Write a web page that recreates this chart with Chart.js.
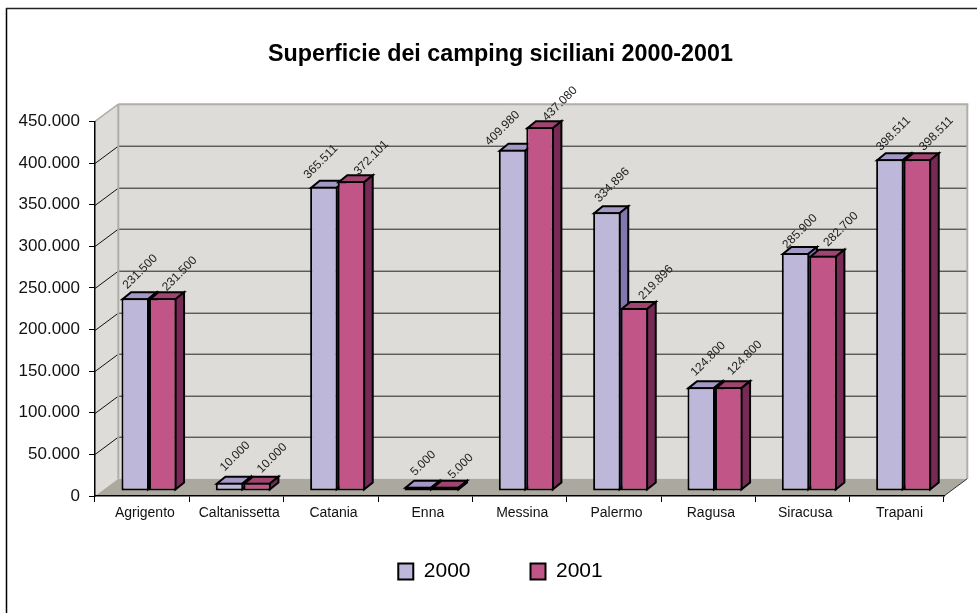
<!DOCTYPE html>
<html>
<head>
<meta charset="utf-8">
<style>html,body{margin:0;padding:0;background:#fff}canvas{display:block}</style>
<script src="https://cdn.jsdelivr.net/npm/chart.js@4"></script>
</head>
<body>
<canvas id="c" width="977" height="613"></canvas>
<script>
const categories = ["Agrigento","Caltanissetta","Catania","Enna","Messina","Palermo","Ragusa","Siracusa","Trapani"];
const seriesNames = ["2000","2001"];
const values2000 = [231500,10000,365511,5000,409980,334896,124800,285900,398511];
const values2001 = [231500,10000,372101,5000,437080,219896,124800,282700,398511];
const chartTitle = "Superficie dei camping siciliani 2000-2001";
const yMax = 450000;
const yStep = 50000;

const FONT = '"Liberation Sans", Arial, sans-serif';
const fmt = v => String(v).replace(/\B(?=(\d{3})+(?!\d))/g, ".");
// perspective of the walls, of the bars, and where the bars stand on the floor
const WALL = {dx: 23.3, dy: 17.3};
const BAR = {dx: 8.6, dy: 7, shiftX: 6.8, shiftY: -5};
const shades = [
  {top: "#A398C6", side: "#8378AE"},
  {top: "#A04570", side: "#762A55"}
];
// how far each rotated value label sits from the top-centre of its bar
const labelNudge = [
  {dx: [5,5.5,-3,5,-10,5.4,7,4.5,3.6], dy: [-26.5,-26.2,-25,-23.5,-21.5,-27.2,-28.2,-21.5,-25.5]},
  {dx: [17,15,20,15,20,21.6,16,18,19], dy: [-24.5,-24.5,-23.5,-20.5,-23.5,-25.5,-29.2,-26.5,-25.5]}
];

function poly(ctx, pts, fill, stroke, lw) {
  ctx.beginPath();
  pts.forEach((p, i) => i ? ctx.lineTo(p[0], p[1]) : ctx.moveTo(p[0], p[1]));
  ctx.closePath();
  if (fill) { ctx.fillStyle = fill; ctx.fill(); }
  if (stroke) { ctx.strokeStyle = stroke; ctx.lineWidth = lw; ctx.lineJoin = "miter"; ctx.stroke(); }
}
function line(ctx, x1, y1, x2, y2, color, lw) {
  ctx.beginPath(); ctx.moveTo(x1, y1); ctx.lineTo(x2, y2);
  ctx.strokeStyle = color; ctx.lineWidth = lw; ctx.stroke();
}

const scene3d = {
  id: "scene3d",
  afterLayout(chart) {
    // let the tick labels use the margin outside the narrow scale boxes
    chart.scales.y.left = 0;
    chart.scales.x.bottom = 545;
  },
  beforeDraw(chart) {
    const {ctx, chartArea: a, scales: {y}} = chart;
    const {dx, dy} = WALL;
    ctx.save();
    ctx.fillStyle = "#fff"; ctx.fillRect(0, 0, chart.width, chart.height);
    // sheet frame, cropped on the right and bottom
    line(ctx, 6.5, 8, 6.5, 613, "#000", 1.5);
    line(ctx, 6, 8.5, 977, 8.5, "#222", 1.5);
    // walls and floor
    poly(ctx, [[a.left, a.top],[a.left+dx, a.top-dy],[a.left+dx, a.bottom-dy],[a.left, a.bottom]], "#DDDCD8");
    ctx.fillStyle = "#DDDCD8";
    ctx.fillRect(a.left+dx, a.top-dy, a.right-a.left, a.bottom-a.top);
    poly(ctx, [[a.left, a.bottom],[a.left+dx, a.bottom-dy],[a.right+dx, a.bottom-dy],[a.right, a.bottom]], "#ABA89F");
    // grid on the walls
    y.ticks.forEach(t => {
      if (t.value === 0 || t.value === yMax) return;
      const py = Math.round(y.getPixelForValue(t.value)) + 0.5;
      line(ctx, a.left, py, a.left+dx, py-dy, "#111", 1);
      line(ctx, a.left+dx, py-dy, a.right+dx, py-dy, "#222", 1);
    });
    // wall edges
    const edge = "#B0AEA8";
    line(ctx, a.left, a.top, a.left+dx, a.top-dy, edge, 1.5);
    line(ctx, a.left+dx, a.top-dy, a.right+dx+1, a.top-dy, edge, 2);
    line(ctx, a.left+dx, a.top-dy, a.left+dx, a.bottom-dy, edge, 2);
    line(ctx, a.right+dx, a.top-dy, a.right+dx, a.bottom-dy, edge, 2);
    line(ctx, a.right, a.bottom, a.right+dx, a.bottom-dy, "#333", 1);
    ctx.restore();
  },
  beforeDatasetsDraw(chart) {
    const {ctx} = chart;
    // top and side faces, behind the fronts the library paints next
    ctx.save();
    ctx.translate(BAR.shiftX, BAR.shiftY);
    [0, 1].forEach(d => {
      chart.getDatasetMeta(d).data.forEach(b => {
        const l = b.x - b.width/2 + 1, r = b.x + b.width/2 - 1;
        const t = b.y + 1, bot = b.base - 1;
        poly(ctx, [[l,t],[l+BAR.dx,t-BAR.dy],[r+BAR.dx,t-BAR.dy],[r,t]], shades[d].top, "#000", 2);
        poly(ctx, [[r,t],[r+BAR.dx,t-BAR.dy],[r+BAR.dx,bot-BAR.dy],[r,bot]], shades[d].side, "#000", 2);
      });
    });
    ctx.restore();
    ctx.save();
    ctx.translate(BAR.shiftX, BAR.shiftY);
  },
  afterDatasetsDraw(chart) {
    const {ctx} = chart;
    ctx.restore();
    ctx.save();
    ctx.font = "12px " + FONT;
    ctx.fillStyle = "#222";
    ctx.textAlign = "center";
    ctx.textBaseline = "middle";
    chart.data.datasets.forEach((ds, d) => {
      chart.getDatasetMeta(d).data.forEach((b, i) => {
        ctx.save();
        ctx.translate(b.x + BAR.shiftX + labelNudge[d].dx[i], b.y + BAR.shiftY + labelNudge[d].dy[i]);
        ctx.rotate(-Math.PI/4);
        ctx.fillText(fmt(ds.data[i]), 0, 0);
        ctx.restore();
      });
    });
    ctx.restore();
  }
};

new Chart(document.getElementById("c"), {
  type: "bar",
  plugins: [scene3d],
  data: {
    labels: categories,
    datasets: [
      {label: seriesNames[0], data: values2000, backgroundColor: "#BDB8D9"},
      {label: seriesNames[1], data: values2001, backgroundColor: "#C25587"}
    ]
  },
  options: {
    responsive: false,
    animation: false,
    devicePixelRatio: 1,
    layout: {padding: {left: 57, right: 33, top: 0, bottom: 21}},
    datasets: {bar: {categoryPercentage: 0.583, barPercentage: 1, borderColor: "#000", borderWidth: 2, borderSkipped: false, clip: false}},
    plugins: {
      tooltip: {enabled: false},
      title: {
        display: true, text: chartTitle, color: "#000",
        font: {family: FONT, size: 23.3, weight: "bold"}, padding: {top: 41, bottom: 52.5}
      },
      legend: {
        position: "bottom",
        labels: {
          color: "#000", boxWidth: 15, boxHeight: 16, padding: 60,
          font: {family: FONT, size: 21}
        }
      }
    },
    scales: {
      x: {
        afterFit(s) { s.height = 5; },
        grid: {drawOnChartArea: false, color: "#000", tickLength: 6, tickColor: "#000"},
        border: {color: "#000", width: 1.5},
        ticks: {
          color: "#111", font: {family: FONT, size: 14}, maxRotation: 0, autoSkip: false,
          padding: 3, labelOffset: 2.7
        }
      },
      y: {
        min: 0, max: yMax,
        afterFit(s) { s.width = 38; },
        grid: {drawOnChartArea: false, color: "#000", tickLength: 6, tickColor: "#000"},
        border: {color: "#000", width: 1.5},
        ticks: {
          stepSize: yStep, color: "#111", padding: 9,
          font: {family: FONT, size: 17}, callback: v => fmt(v)
        }
      }
    }
  }
});
</script>
</body>
</html>
